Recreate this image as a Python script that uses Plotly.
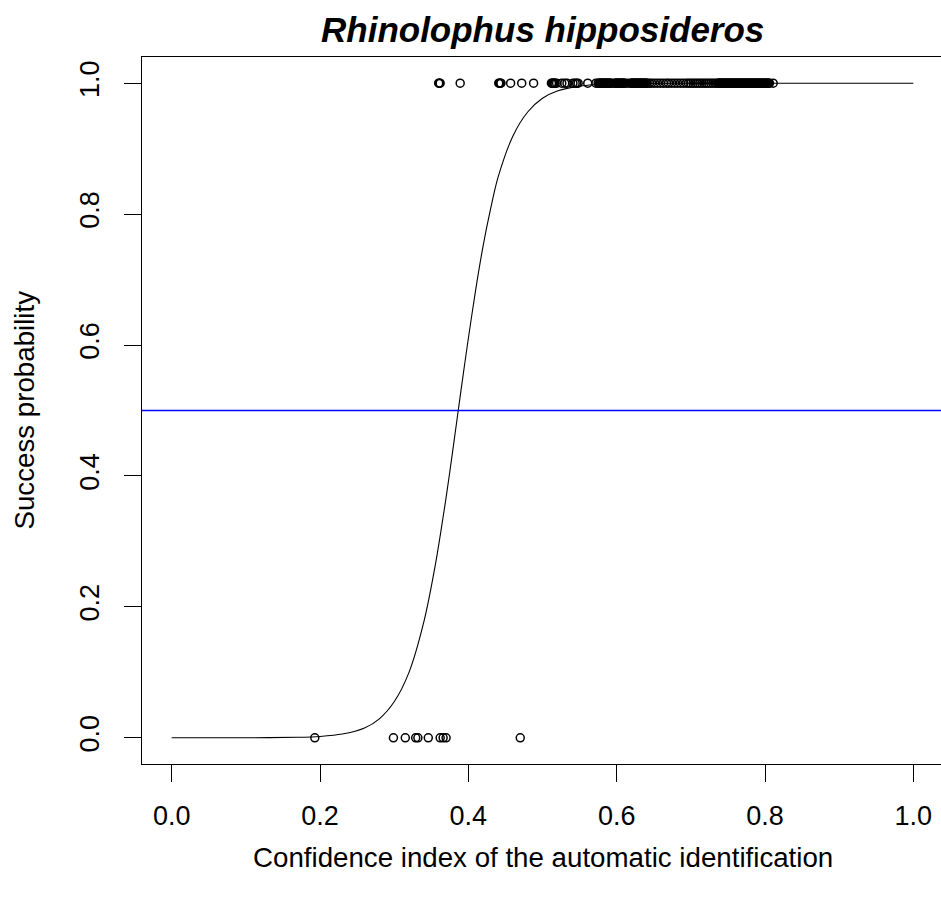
import plotly.graph_objects as go

# Observed outcomes: confidence index of automatic identification
success_x = [0.360, 0.361, 0.362, 0.389,
             0.441, 0.442, 0.443, 0.444, 0.457, 0.472, 0.488,
             0.512, 0.513, 0.514, 0.515, 0.516, 0.517, 0.519, 0.526, 0.530, 0.533,
             0.541, 0.544, 0.546, 0.548, 0.561,
             0.572, 0.575, 0.576, 0.577, 0.578, 0.579, 0.580, 0.581, 0.582, 0.583,
             0.584, 0.585, 0.586, 0.587, 0.588, 0.589, 0.590, 0.591, 0.592,
             0.595,
             0.598, 0.599, 0.600, 0.601, 0.602, 0.603, 0.604, 0.605, 0.606, 0.607,
             0.608, 0.609, 0.610, 0.611,
             0.615,
             0.619, 0.620, 0.621, 0.622, 0.623, 0.624, 0.625, 0.626, 0.627, 0.628,
             0.629, 0.630, 0.631, 0.632, 0.633, 0.634, 0.635, 0.636, 0.637, 0.638,
             0.639, 0.640, 0.641,
             0.644, 0.647, 0.651, 0.655, 0.659, 0.663, 0.667, 0.670, 0.674, 0.678,
             0.682, 0.686, 0.690,
             0.694, 0.697, 0.700, 0.703, 0.706, 0.709, 0.712, 0.715, 0.718, 0.721,
             0.724, 0.727, 0.730, 0.733, 0.736,
             0.737, 0.738, 0.739, 0.740, 0.741, 0.742, 0.743, 0.744, 0.745, 0.746,
             0.747, 0.748, 0.749, 0.750, 0.751, 0.752, 0.753, 0.754, 0.755, 0.756,
             0.757, 0.758, 0.759, 0.760, 0.761, 0.762, 0.763, 0.764, 0.765, 0.766,
             0.767, 0.768, 0.769, 0.770, 0.771, 0.772, 0.773, 0.774, 0.775, 0.776,
             0.777, 0.778, 0.779, 0.780, 0.781, 0.782, 0.783, 0.784, 0.785, 0.786,
             0.787, 0.788, 0.789, 0.790, 0.791, 0.792, 0.793, 0.794, 0.795, 0.796,
             0.797, 0.798, 0.799, 0.800, 0.801, 0.802, 0.803, 0.804, 0.805, 0.806,
             0.811]
success_y = [1] * len(success_x)

failure_x = [0.193, 0.299, 0.315, 0.329, 0.332, 0.346, 0.362, 0.366, 0.370, 0.470]
failure_y = [0] * len(failure_x)

# Fitted success probability curve
curve_x = [0.0, 0.10, 0.17, 0.20, 0.23, 0.26, 0.28, 0.30, 0.32, 0.34, 0.355, 0.37,
           0.38, 0.39, 0.40, 0.41, 0.42, 0.43, 0.44, 0.46, 0.48, 0.50, 0.52, 0.55,
           0.60, 0.70, 0.80, 1.0]
curve_y = [0.0, 0.0001, 0.0008, 0.0021, 0.0057, 0.015, 0.029, 0.055, 0.10, 0.177, 0.261, 0.367,
           0.447, 0.53, 0.61, 0.685, 0.752, 0.808, 0.856, 0.919, 0.956, 0.977, 0.988, 0.9955,
           0.9991, 1.0, 1.0, 1.0]

threshold = 0.5
tick_vals = [0.0, 0.2, 0.4, 0.6, 0.8, 1.0]
tick_text = ["0.0", "0.2", "0.4", "0.6", "0.8", "1.0"]

title = "<b><i>Rhinolophus hipposideros</i></b>"
x_title = "Confidence index of the automatic identification"
y_title = "Success probability"

FONT = "Liberation Sans, Arial, Helvetica, sans-serif"

fig = go.Figure()
fig.add_trace(go.Scatter(x=curve_x, y=curve_y, mode="lines",
                         line=dict(color="black", width=1.1, shape="spline", smoothing=0.8),
                         hoverinfo="skip", showlegend=False))
marker_style = dict(symbol="circle-open", size=8, color="black",
                    line=dict(width=1.5, color="black"))
fig.add_trace(go.Scatter(x=success_x, y=success_y, mode="markers",
                         marker=marker_style, showlegend=False))
fig.add_trace(go.Scatter(x=failure_x, y=failure_y, mode="markers",
                         marker=marker_style, showlegend=False))

fig.add_shape(type="line", xref="paper", x0=0, x1=1, yref="y", y0=threshold, y1=threshold,
              line=dict(color="#0000FF", width=1.3))

fig.update_layout(
    width=941, height=900,
    margin=dict(l=142, r=0, t=57, b=136, pad=0),
    paper_bgcolor="white", plot_bgcolor="white",
    font=dict(family=FONT, size=27, color="black"),
    showlegend=False,
)
fig.update_xaxes(range=[-0.04, 1.0373], tickvals=tick_vals, ticktext=tick_text,
                 ticks="outside", ticklen=17, tickwidth=1, tickcolor="black",
                 showline=True, linecolor="black", linewidth=1, mirror=True,
                 showgrid=False, zeroline=False, ticklabelstandoff=11,
                 tickfont=dict(family=FONT, size=27, color="black"))
fig.update_yaxes(range=[-0.04, 1.04], tickvals=tick_vals, ticktext=tick_text,
                 ticks="outside", ticklen=17, tickwidth=1, tickcolor="black",
                 showline=True, linecolor="black", linewidth=1, mirror=False,
                 showgrid=False, zeroline=False, tickangle=-90, ticklabelstandoff=14,
                 tickfont=dict(family=FONT, size=27, color="black"))

fig.add_annotation(text=title, xref="paper", yref="paper", x=0.5013, y=1 + 27 / 707,
                   xanchor="center", yanchor="middle", showarrow=False,
                   font=dict(family=FONT, size=35, color="black"))
fig.add_annotation(text=x_title, xref="paper", yref="paper", x=0.5013, y=-(857 - 764) / 707,
                   xanchor="center", yanchor="middle", showarrow=False,
                   font=dict(family=FONT, size=27.7, color="black"))
fig.add_annotation(text=y_title, xref="paper", yref="paper", x=-(142 - 24) / 799, y=0.5,
                   xanchor="center", yanchor="middle", showarrow=False, textangle=-90,
                   font=dict(family=FONT, size=27.7, color="black"))

fig.write_html("out.html", config={"displayModeBar": False},
               post_script="document.body.style.margin='0';document.body.style.overflow='hidden';")
